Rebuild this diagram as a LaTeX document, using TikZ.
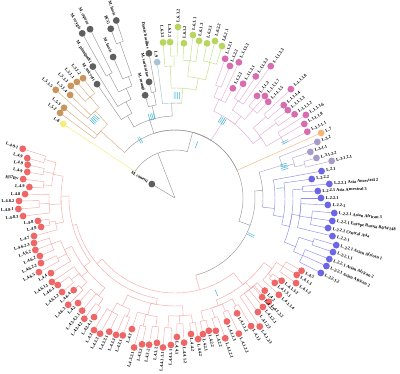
\documentclass[tikz,border=0pt]{standalone}
\usepackage{fontspec}
\setmainfont{Liberation Serif}
\usetikzlibrary{calc}
\definecolor{cgray}{HTML}{5F5F5F}
\definecolor{cbrown}{HTML}{C9955C}
\definecolor{cyel}{HTML}{F3EE7A}
\definecolor{cgreen}{HTML}{B6D65E}
\definecolor{cnine}{HTML}{A8C4D4}
\definecolor{cpink}{HTML}{D76CB0}
\definecolor{corange}{HTML}{F4B777}
\definecolor{cpurp}{HTML}{A99BC9}
\definecolor{cblue}{HTML}{6C66E6}
\definecolor{cred}{HTML}{EE6666}
\definecolor{cboot}{HTML}{3BB8D8}
\newcounter{lbn}
\tikzset{
  base/.style={line width=0.45pt},
  lgray/.style={base,draw=black!40},
  lbrown/.style={base,draw=cbrown!75},
  lyel/.style={base,draw=cyel},
  lgreen/.style={base,draw=cgreen!80},
  lnine/.style={base,draw=cnine},
  lpink/.style={base,draw=cpink!55},
  lorange/.style={base,draw=corange},
  lpurp/.style={base,draw=cpurp!85},
  lblue/.style={base,draw=cblue!75},
  lred/.style={base,draw=cred!55},
  fgray/.style={fill=cgray},
  fbrown/.style={fill=cbrown},
  fyel/.style={fill=cyel},
  fgreen/.style={fill=cgreen},
  fnine/.style={fill=cnine},
  fpink/.style={fill=cpink},
  forange/.style={fill=corange},
  fpurp/.style={fill=cpurp},
  fblue/.style={fill=cblue},
  fred/.style={fill=cred},
  lbl/.style={font=\fontsize{4.35}{5}\selectfont\bfseries, inner sep=0pt, text=black},
  boot/.style={draw=cboot, line width=0.5pt}
}
% elbow: child angle, child radius, parent angle, parent radius, radial style, arc style
\newcommand\nd[6]{\draw[#5] ({#1}:{#2}) -- ({#1}:{#4});
  \draw[#6] ({#1}:{#4}) arc[start angle={#1}, end angle={#3}, radius={#4}];}
\newcommand\lab[3]{\stepcounter{lbn}%
  \pgfmathtruncatemacro\flp{cos(#1)<0}%
  \ifnum\flp=1
    \node[lbl, anchor=east, rotate={#1+180}] (t\thelbn) at ({#1}:{#2+4.6}) {#3};
  \else
    \node[lbl, anchor=west, rotate={#1}] (t\thelbn) at ({#1}:{#2+4.6}) {#3};
  \fi}
% leaf: angle, radius, parent angle, parent radius, clade, label
\newcommand\lf[6]{\nd{#1}{#2-3.3}{#3}{#4}{l#5}{l#5}
  \fill[f#5] ({#1}:{#2}) circle (3.4); \lab{#1}{#2}{#6}}
% bootstrap marks: angle, radius, count
\newcommand\bs[3]{\foreach \k in {1,...,#3}{\draw[boot] ($({#1}:{#2})+({#1+90}:{(\k-(#3+1)/2)*1.8})$) -- ++({#1}:7);}}
\begin{document}
\begin{tikzpicture}[x=1pt,y=1pt]
\fill[white] (-175,-176) rectangle (225,198);
\useasboundingbox (-175,-176) rectangle (225,198);
\coordinate (R) at (0,0);
% root
\draw[lgray] (R) -- (149:23.7);
\fill[fgray] (149:27) circle (3.4); \lab{149}{27}{M. canetti}
\draw[lgray] (R) -- (111:48);
% N1
\nd{146.5}{48}{111}{48}{lyel}{lgray}
\draw[lyel] (146.5:48) -- (146.5:130.7);
\fill[fyel] (146.5:134) circle (3.4); \lab{146.5}{134}{L.8}
\nd{75}{68}{111}{48}{lgray}{lgray}
% N2 children
\nd{138}{100}{75}{68}{lbrown}{lgray}
\nd{108}{82}{75}{68}{lgray}{lgray}
\nd{58}{95}{75}{68}{lpink}{lgray}
\nd{24}{68}{75}{68}{lorange}{lgray}
\draw[lorange] (24:68) -- (24:156.7);
\fill[forange] (24:160) circle (3.4); \lab{24}{160}{L.7}
\nd{-20}{80}{75}{68}{lgray}{lgray}
% L5
\lf{143.5}{143}{138}{100}{brown}{L.5.2}
\lf{140.9}{143}{138}{100}{brown}{L.5.3}
\nd{132.5}{118}{138}{100}{lbrown}{lbrown}
\lf{137.8}{161}{132.5}{118}{brown}{L.5.1.5}
\lf{135.5}{147}{132.5}{118}{brown}{L.5.1.4}
\nd{130}{132}{132.5}{118}{lbrown}{lbrown}
\lf{132.9}{153}{130}{132}{brown}{L.5.1.3}
\lf{130.2}{152}{130}{132}{brown}{L.5.1.1}
\lf{127.5}{151}{130}{132}{brown}{L.5.1.2}
% ANC
\nd{120}{95}{108}{82}{lgray}{lgray}
\lf{124.4}{138}{120}{95}{gray}{M. microti}
\nd{117}{108}{120}{95}{lgray}{lgray}
\lf{122}{155}{117}{108}{gray}{M. pinnipedii}
\nd{114}{120}{117}{108}{lgray}{lgray}
\nd{118}{140}{114}{120}{lgray}{lgray}
\lf{119.4}{189}{118}{140}{gray}{M. orygis}
\lf{116.7}{189}{118}{140}{gray}{M. caprae}
\nd{111}{130}{114}{120}{lgray}{lgray}
\lf{113.7}{154}{111}{130}{gray}{M. bovis}
\nd{109.5}{165}{111}{130}{lgray}{lgray}
\lf{110.8}{181}{109.5}{165}{gray}{BCG}
\lf{108.3}{187}{109.5}{165}{gray}{M. bovis}
\nd{104}{95}{108}{82}{lgray}{lgray}
\lf{106.2}{107}{104}{95}{gray}{M. mungi}
\nd{101.4}{108}{104}{95}{lgray}{lgray}
\lf{102.6}{119}{101.4}{108}{gray}{M. suricattae}
\lf{100.2}{147}{101.4}{108}{gray}{Dassie bacillus}
\nd{92}{95}{108}{82}{lgray}{lgray}
\lf{97.5}{137}{92}{95}{nine}{L.9}
\nd{86}{110}{92}{95}{lgreen}{lgray}
\nd{92}{132}{86}{110}{lgreen}{lgreen}
\lf{94.4}{156}{92}{132}{green}{L.6.3.3}
\nd{90.4}{142}{92}{132}{lgreen}{lgreen}
\lf{91.8}{156}{90.4}{142}{green}{L.6.3.1}
\lf{89}{171}{90.4}{142}{green}{L.6.3.2}
\nd{79}{122}{86}{110}{lgreen}{lgreen}
\nd{84}{138}{79}{122}{lgreen}{lgreen}
\lf{86.7}{155}{84}{138}{green}{L.6.1.2}
\lf{83.7}{164}{84}{138}{green}{L.6.1.1}
\lf{81.3}{159}{84}{138}{green}{L.6.1.3}
\nd{75.5}{140}{79}{122}{lgreen}{lgreen}
\lf{78.3}{158}{75.5}{140}{green}{L.6.2.3}
\lf{75.7}{162}{75.5}{140}{green}{L.6.2.2}
\lf{72.8}{159}{75.5}{140}{green}{L.6.2.1}
% L1
\nd{66}{108}{58}{95}{lpink}{lpink}
\nd{68.8}{120}{66}{108}{lpink}{lpink}
\lf{70.2}{148}{68.8}{120}{pink}{L.1.2.1}
\lf{67.4}{143}{68.8}{120}{pink}{L.1.2.2}
\lf{64.8}{150}{66}{108}{pink}{L.1.1.3.3}
\lf{62.2}{124}{66}{108}{pink}{L.1.2.3}
\nd{51}{105}{58}{95}{lpink}{lpink}
\nd{57}{116}{51}{105}{lpink}{lpink}
\lf{59.2}{133}{57}{116}{pink}{L.1.1.3.1}
\lf{56.4}{146}{57}{116}{pink}{L.1.1.3.2}
\lf{54}{163}{57}{116}{pink}{L.1.1.3.3}
\nd{48.5}{118}{51}{105}{lpink}{lpink}
\lf{51.2}{131}{48.5}{118}{pink}{L.1.1.2}
\lf{48.6}{136}{48.5}{118}{pink}{L.1.1.1.7}
\lf{45.9}{134}{48.5}{118}{pink}{L.1.1.1.5}
\nd{35}{105}{58}{95}{lpink}{lpink}
\nd{41.8}{122}{35}{105}{lpink}{lpink}
\lf{43.2}{159}{41.8}{122}{pink}{L.1.1.1.8}
\lf{40.5}{143}{41.8}{122}{pink}{L.1.1.1.4}
\nd{36.5}{126}{35}{105}{lpink}{lpink}
\lf{37.9}{143}{36.5}{126}{pink}{L.1.1.1.3}
\lf{35}{146}{36.5}{126}{pink}{L.1.1.1.2}
\nd{29.6}{122}{35}{105}{lpink}{lpink}
\lf{32.4}{155}{29.6}{122}{pink}{L.1.1.1.6}
\lf{29.8}{149}{29.6}{122}{pink}{L.1.1.1.8}
\lf{26.6}{148}{29.6}{122}{pink}{L.1.1.1.1}
% MOD
\nd{5}{88}{-20}{80}{lgray}{lgray}
\nd{17}{112}{5}{88}{lpurp}{lgray}
\lf{21.5}{153}{17}{112}{purp}{L.3.2}
\nd{16}{124}{17}{112}{lpurp}{lpurp}
\lf{18.8}{143}{16}{124}{purp}{L.3.1.1}
\nd{14.5}{134}{16}{124}{lpurp}{lpurp}
\lf{15.8}{147}{14.5}{134}{purp}{L.3.1.2.2}
\lf{13.3}{161}{14.5}{134}{purp}{L.3.1.2.1}
\nd{-6}{100}{5}{88}{lblue}{lgray}
\lf{10.4}{149}{-6}{100}{blue}{L.2.1}
\nd{-10}{110}{-6}{100}{lblue}{lblue}
\lf{7.9}{138}{-10}{110}{blue}{L.2.2.2}
\nd{-14}{118}{-10}{110}{lblue}{lblue}
\nd{4}{128}{-14}{118}{lblue}{lblue}
\lf{5.2}{155}{4}{128}{blue}{L.2.2.1 Asia Ancestral 2}
\lf{2.8}{143}{4}{128}{blue}{L.2.2.1 Asia Ancestral 3}
\nd{-8}{126}{-14}{118}{lblue}{lblue}
\lf{0}{146}{-8}{126}{blue}{L.2.2.1}
\lf{-2.6}{153}{-8}{126}{blue}{L.2.2.1}
\nd{-8.3}{138}{-8}{126}{lblue}{lblue}
\lf{-5.4}{160}{-8.3}{138}{blue}{L.2.2.1 Asian African 3}
\lf{-8.3}{159}{-8.3}{138}{blue}{L.2.2.1 Europe Russia B0/W148}
\lf{-11.1}{156}{-8.3}{138}{blue}{L.2.2.1 Central Asia}
\lf{-13.6}{162}{-8}{126}{blue}{L.2.2.1}
\nd{-22}{130}{-14}{118}{lblue}{lblue}
\nd{-17.6}{145}{-22}{130}{lblue}{lblue}
\lf{-16.3}{168}{-17.6}{145}{blue}{L.2.2.1 Asian African 1}
\lf{-18.9}{167}{-17.6}{145}{blue}{L.2.2.1.1}
\nd{-24.3}{140}{-22}{130}{lblue}{lblue}
\lf{-21.6}{166}{-24.3}{140}{blue}{L.2.2.1 Asian African 2}
\lf{-24.2}{166}{-24.3}{140}{blue}{L.2.2.1 Asian African 2}
\lf{-27.2}{164}{-24.3}{140}{blue}{L.2.2.1.2}
% L4
\nd{-75}{95}{-20}{80}{lred}{lgray}
\nd{-52}{110}{-75}{95}{lred}{lred}
\nd{-36}{120}{-52}{110}{lred}{lred}
\nd{-32.4}{128}{-36}{120}{lred}{lred}
\lf{-29.9}{146}{-32.4}{128}{red}{L.4.5}
\lf{-32.3}{144}{-32.4}{128}{red}{L.4.1.3}
\lf{-35.1}{148}{-32.4}{128}{red}{L.4.1.2}
\nd{-39.1}{124}{-36}{120}{lred}{lred}
\lf{-37.8}{135}{-39.1}{124}{red}{L.4.1.3.2}
\lf{-40.4}{131}{-39.1}{124}{red}{L.4.1.3.1}
\lf{-43}{142}{-36}{120}{red}{L.4.1.1.4}
\nd{-50}{118}{-52}{110}{lred}{lred}
\lf{-45.9}{129}{-50}{118}{red}{L.4.2}
\lf{-47.9}{140}{-50}{118}{red}{L.4.1.2.2}
\lf{-48.7}{132}{-50}{118}{red}{L.4.2.2}
\lf{-51.1}{140}{-50}{118}{red}{L.4.1.2.1}
\lf{-54}{141}{-50}{118}{red}{L.4.1.2.3}
\lf{-56.6}{154}{-50}{118}{red}{L.4.1.2.3}
\nd{-68}{116}{-52}{110}{lred}{lred}
\nd{-60.5}{124}{-68}{116}{lred}{lred}
\lf{-59.3}{149}{-60.5}{124}{red}{L.4.1.1}
\lf{-61.7}{131}{-60.5}{124}{red}{L.4.1.1.2}
\nd{-66}{124}{-68}{116}{lred}{lred}
\lf{-64.8}{150}{-66}{124}{red}{L.4.1.2.2}
\lf{-67.2}{134}{-66}{124}{red}{L.4.1.1.3}
\nd{-71.6}{126}{-68}{116}{lred}{lred}
\lf{-70.3}{149}{-71.6}{126}{red}{L.4.1.2.1}
\lf{-72.9}{139}{-71.6}{126}{red}{L.4.2.2}
\nd{-77}{126}{-68}{116}{lred}{lred}
\lf{-75.7}{137}{-77}{126}{red}{L.4.2.2}
\lf{-78.4}{139}{-77}{126}{red}{L.4.2.1}
\nd{-140}{102}{-75}{95}{lred}{lred}
\nd{-100}{108}{-140}{102}{lred}{lred}
\nd{-86}{118}{-100}{108}{lred}{lred}
\nd{-82}{126}{-86}{118}{lred}{lred}
\lf{-80.7}{143}{-82}{126}{red}{L.4.4.2}
\lf{-83.3}{137}{-82}{126}{red}{L.4.4.2}
\nd{-87.8}{126}{-86}{118}{lred}{lred}
\lf{-86.4}{145}{-87.8}{126}{red}{L.4.4.1.2}
\lf{-89.2}{139}{-87.8}{126}{red}{L.4.4.1}
\nd{-93.1}{130}{-86}{118}{lred}{lred}
\lf{-91.6}{147}{-93.1}{130}{red}{L.4.4.1.1}
\lf{-94.6}{150}{-93.1}{130}{red}{L.4.4.1.1.1}
\nd{-103}{120}{-100}{108}{lred}{lred}
\nd{-98.5}{130}{-103}{120}{lred}{lred}
\lf{-97.1}{146}{-98.5}{130}{red}{L.4.3.2}
\lf{-100}{149}{-98.5}{130}{red}{L.4.3.2}
\nd{-104}{132}{-103}{120}{lred}{lred}
\lf{-102.7}{150}{-104}{132}{red}{L.4.3.2}
\lf{-105.3}{155}{-104}{132}{red}{L.4.3.2.1}
\lf{-108.2}{138}{-103}{120}{red}{L.4.3}
\nd{-116}{120}{-100}{108}{lred}{lred}
\nd{-112}{128}{-116}{120}{lred}{lred}
\lf{-110.8}{147}{-112}{128}{red}{L.4.3.1}
\lf{-113.3}{149}{-112}{128}{red}{L.4.3.3}
\nd{-118.9}{130}{-116}{120}{lred}{lred}
\lf{-116.2}{149}{-118.9}{130}{red}{L.4.3.3.1}
\lf{-118.9}{155}{-118.9}{130}{red}{L.4.3.3}
\lf{-121.5}{155}{-118.9}{130}{red}{L.4.3}
\nd{-165}{106}{-140}{102}{lred}{lred}
\nd{-143}{114}{-165}{106}{lred}{lred}
\nd{-128}{124}{-143}{114}{lred}{lred}
\nd{-125.5}{132}{-128}{124}{lred}{lred}
\lf{-124.2}{144}{-125.5}{132}{red}{L.4.3.4.1}
\lf{-126.9}{151}{-125.5}{132}{red}{L.4.3.4.2}
\lf{-129.5}{146}{-128}{124}{red}{L.4.3.4.2.1}
\lf{-132.7}{143}{-128}{124}{red}{L.4.2}
\nd{-140}{122}{-143}{114}{lred}{lred}
\nd{-136.3}{130}{-140}{122}{lred}{lred}
\lf{-135}{151}{-136.3}{130}{red}{L.4.6.3}
\lf{-137.7}{137}{-136.3}{130}{red}{L.4.6.4}
\nd{-141.8}{132}{-140}{122}{lred}{lred}
\lf{-140.2}{147}{-141.8}{132}{red}{L.4.6.1.2}
\lf{-143.4}{146}{-141.8}{132}{red}{L.4.6.1}
\lf{-145.7}{149}{-140}{122}{red}{L.4.6.1.1}
\nd{-155}{122}{-143}{114}{lred}{lred}
\lf{-148.8}{145}{-155}{122}{red}{L.4.4}
\nd{-152.7}{132}{-155}{122}{lred}{lred}
\lf{-151.4}{155}{-152.7}{132}{red}{L.4.6.5}
\lf{-154.1}{149}{-152.7}{132}{red}{L.4.6.2.2}
\nd{-159.6}{132}{-155}{122}{lred}{lred}
\lf{-156.8}{147}{-159.6}{132}{red}{L.4.6.2}
\lf{-159.6}{149}{-159.6}{132}{red}{L.4.6.2}
\lf{-162.3}{148}{-159.6}{132}{red}{L.4.6.2.3}
\nd{-181}{114}{-165}{106}{lred}{lred}
\nd{-167.8}{122}{-181}{114}{lred}{lred}
\lf{-164.9}{146}{-167.8}{122}{red}{L.4.7}
\nd{-169.1}{128}{-167.8}{122}{lred}{lred}
\lf{-167.8}{137}{-169.1}{128}{red}{L.4.8}
\lf{-170.5}{139}{-169.1}{128}{red}{L.4.8}
\nd{-177}{126}{-181}{114}{lred}{lred}
\lf{-173.2}{153}{-177}{126}{red}{L.4.8.3}
\nd{-177.5}{136}{-177}{126}{lred}{lred}
\lf{-176}{157}{-177.5}{136}{red}{L.4.8.1}
\lf{-178.9}{156}{-177.5}{136}{red}{L.4.8.2}
\lf{-181.5}{150}{-177}{126}{red}{L.4.8}
\nd{-191}{124}{-181}{114}{lred}{lred}
\nd{-185.7}{132}{-191}{124}{lred}{lred}
\lf{-184.3}{146}{-185.7}{132}{red}{L.4.9}
\lf{-187.1}{153}{-185.7}{132}{red}{H37Rv}
\nd{-191.4}{134}{-191}{124}{lred}{lred}
\lf{-190}{150}{-191.4}{134}{red}{L.4.9}
\lf{-192.7}{151}{-191.4}{134}{red}{L.4.9}
\nd{-196.5}{136}{-191}{124}{lred}{lred}
\lf{-195.1}{153}{-196.5}{136}{red}{L.4.9}
\lf{-197.9}{160}{-196.5}{136}{red}{L.4.9.1}
% bootstrap marks
\bs{135.7}{109}{5}
\bs{106}{81}{4}
\bs{89}{99}{4}
\bs{58.6}{87}{4}
\bs{121}{64}{2}
\bs{68}{54}{1}
\bs{27}{120}{2}
\bs{16}{110}{4}
\bs{5.4}{102}{1}
\bs{-26}{81}{2}
\bs{-66.4}{100}{1}
\end{tikzpicture}
\end{document}
